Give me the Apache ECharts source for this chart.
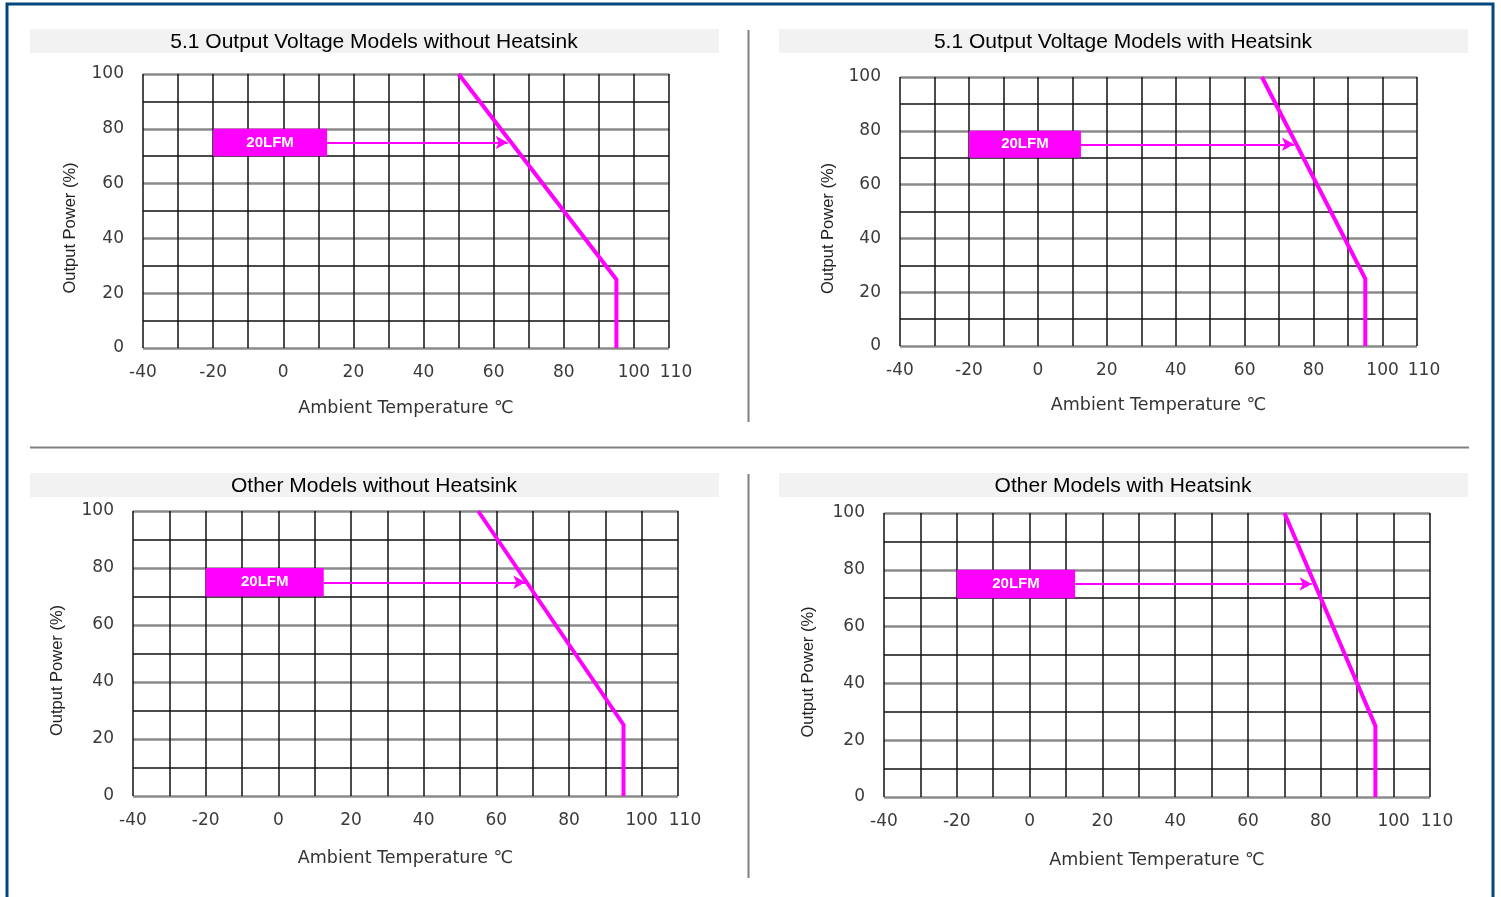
<!DOCTYPE html>
<html>
<head>
<meta charset="utf-8">
<script src="https://cdn.jsdelivr.net/npm/echarts@6/dist/echarts.min.js"></script>
<style>
html,body{margin:0;padding:0;background:#fff;}
#chart{width:1501px;height:897px;}
</style>
</head>
<body>
<div id="chart"></div>
<script>
// ---- data ----
const panelTitles = [
  '5.1 Output Voltage Models without Heatsink',
  '5.1 Output Voltage Models with Heatsink',
  'Other Models without Heatsink',
  'Other Models with Heatsink'
];
const xLabelValues = [-40, -20, 0, 20, 40, 60, 80, 100, 110];
const yLabelValues = [0, 20, 40, 60, 80, 100];
const curve1 = [[50, 100], [95, 25], [95, 0]];
const curve2 = [[65, 100], [95, 25], [95, 0]];
const curve3 = [[55, 100], [95, 25], [95, 0]];
const curve4 = [[70, 100], [95, 25], [95, 0]];
const curves = [curve1, curve2, curve3, curve4];
const airflowLabel = '20LFM';
const boxX = [-20, 12.5];
const boxY = [70, 80];
const arrowY = 75;
const arrowEndX = [64, 74.3, 68, 77.5];
const xAxisName = 'Ambient Temperature ℃';
const yAxisName = 'Output Power (%)';

// ---- layout ----
const grids = [
  {left: 143, top: 74, width: 526, height: 274},
  {left: 900, top: 77, width: 517, height: 269},
  {left: 133, top: 511, width: 545, height: 285},
  {left: 884, top: 513, width: 546, height: 284}
];
const xNameGap = [51, 50, 53, 54];
const yNameGap = [64, 63, 67, 67];
const titlePos = [[374, 32], [1123, 32], [374, 476], [1123, 476]];
const bars = [[30, 29], [779, 29], [30, 473], [779, 473]];

const magenta = '#ff00ff';
const tickFont = {fontFamily: 'DejaVu Sans', fontSize: 17, color: '#3a3a3a'};

const xAxes = grids.map((g, i) => ({
  type: 'value', gridIndex: i, min: -40, max: 110, interval: 10,
  axisLine: {show: false}, axisTick: {show: false},
  axisLabel: Object.assign({}, tickFont, {
    margin: 16,
    formatter: v => xLabelValues.indexOf(v) < 0 ? '' : (v === 110 ? '{r|' + v + '}' : String(v)),
    rich: {r: {fontFamily: 'DejaVu Sans', fontSize: 17, color: '#3a3a3a', padding: [0, 0, 0, 14]}}
  }),
  splitLine: {show: true, lineStyle: {color: '#111', width: 1.5}},
  name: xAxisName, nameLocation: 'middle', nameGap: xNameGap[i],
  nameTextStyle: {fontFamily: 'DejaVu Sans', fontSize: 17.5, color: '#333'}
}));

const yAxes = grids.map((g, i) => ({
  type: 'value', gridIndex: i, min: 0, max: 100, interval: 20,
  axisLine: {show: false}, axisTick: {show: false},
  axisLabel: Object.assign({}, tickFont, {
    margin: 19,
    formatter: v => yLabelValues.indexOf(v) >= 0 ? String(v) : ''
  }),
  splitLine: {show: true, lineStyle: {color: '#8a8a8a', width: 2.5}},
  minorTick: {show: false, splitNumber: 2},
  minorSplitLine: {show: true, lineStyle: {color: '#111', width: 1.5}},
  name: yAxisName, nameLocation: 'middle', nameGap: yNameGap[i], nameRotate: 90,
  nameTextStyle: {fontFamily: 'Liberation Sans', fontSize: 16.5, color: '#222', padding: [0, 34, 0, 0]}
}));

const series = [];
curves.forEach((c, i) => {
  series.push({
    type: 'line', xAxisIndex: i, yAxisIndex: i, data: c,
    showSymbol: false, symbol: 'none', silent: true,
    lineStyle: {color: magenta, width: 4, join: 'miter'},
    z: 5,
    markArea: {
      silent: true,
      itemStyle: {color: magenta, opacity: 1},
      label: {show: true, position: 'inside', color: '#fff', fontFamily: 'Liberation Sans',
              fontWeight: 'bold', fontSize: 15},
      data: [[{name: airflowLabel, coord: [boxX[0], boxY[1]]}, {coord: [boxX[1], boxY[0]]}]]
    },
    markLine: {
      silent: true, symbol: ['none', 'arrow'], symbolSize: [10, 12],
      label: {show: false},
      lineStyle: {color: magenta, width: 2, type: 'solid'},
      data: [[{coord: [boxX[1], arrowY]}, {coord: [arrowEndX[i], arrowY]}]]
    }
  });
});

const graphics = [];
// outer border
graphics.push({type: 'rect', shape: {x: 7, y: 4, width: 1486, height: 900},
  style: {fill: 'none', stroke: '#00467c', lineWidth: 3}, z: 100});
// title bars
bars.forEach(b => graphics.push({type: 'rect', shape: {x: b[0], y: b[1], width: 689, height: 24},
  style: {fill: '#f2f2f2'}, z: -10}));
// dividers
graphics.push({type: 'line', shape: {x1: 748.5, y1: 30, x2: 748.5, y2: 422}, style: {stroke: '#808080', lineWidth: 2}});
graphics.push({type: 'line', shape: {x1: 748.5, y1: 474, x2: 748.5, y2: 878}, style: {stroke: '#808080', lineWidth: 2}});
graphics.push({type: 'line', shape: {x1: 30, y1: 447.5, x2: 1469, y2: 447.5}, style: {stroke: '#808080', lineWidth: 2}});

const titles = panelTitles.map((t, i) => ({
  text: t, left: titlePos[i][0], top: titlePos[i][1], textAlign: 'center', padding: 0,
  textStyle: {fontFamily: 'Liberation Sans', fontSize: 21, fontWeight: 'normal', color: '#000'}
}));

const chart = echarts.init(document.getElementById('chart'), null, {renderer: 'canvas'});
chart.setOption({
  animation: false,
  backgroundColor: '#fff',
  title: titles,
  grid: grids,
  xAxis: xAxes,
  yAxis: yAxes,
  series: series,
  graphic: graphics
});
</script>
</body>
</html>
